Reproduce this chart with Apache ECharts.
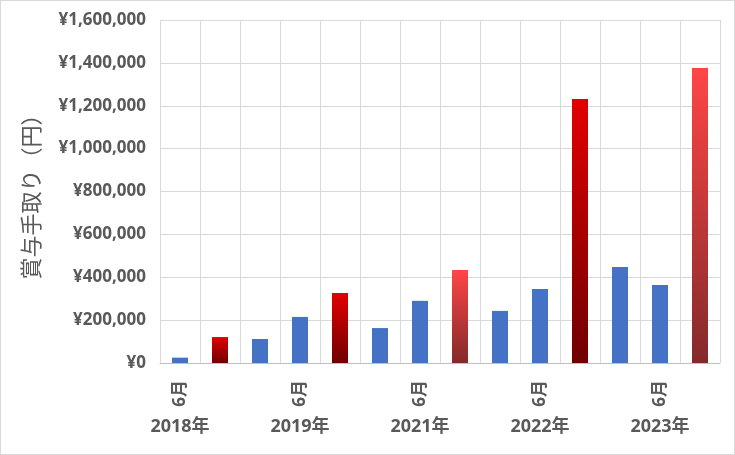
<!DOCTYPE html>
<html>
<head>
<meta charset="utf-8">
<script src="https://cdn.jsdelivr.net/npm/echarts@6/dist/echarts.min.js"></script>
<style>
html,body{margin:0;padding:0;background:#fff;}
#chart{width:733px;height:453px;border:1px solid #d9d9d9;}
</style>
</head>
<body>
<div id="chart"></div>
<script>
const monthLabels = ['6月','','','6月','','','6月','','','6月','','','6月',''];
const yearLabels = ['2018年','','','2019年','','','2021年','','','2022年','','','2023年',''];
const values = [25000,121000,112000,215000,326000,163000,290000,434000,243000,345000,1231000,448000,364000,1376000];
const kinds = ['blue','red','blue','blue','red','blue','blue','light','blue','blue','red','blue','blue','light'];
const yTicks = {min:0, max:1600000, interval:200000};

const categories = values.map((v,i)=>'c'+i);
const fills = {
  blue: '#4472C4',
  red: new echarts.graphic.LinearGradient(0,0,0,1,[{offset:0,color:'#e20000'},{offset:1,color:'#700000'}]),
  light: new echarts.graphic.LinearGradient(0,0,0,1,[{offset:0,color:'#ff4646'},{offset:1,color:'#832a2a'}])
};
const chart = echarts.init(document.getElementById('chart'), null, {renderer:'canvas'});
const lblFont = "'Noto Sans','Noto Sans CJK JP',sans-serif";
chart.setOption({
  animation:false,
  grid:{left:159,right:14,top:19,bottom:91,containLabel:false},
  xAxis:[{
    type:'category', data:categories,
    axisLine:{lineStyle:{color:'#bfbfbf'}},
    axisTick:{show:false},
    splitLine:{show:true,interval:0,lineStyle:{color:'#d9d9d9'}},
    axisLabel:{interval:0,rotate:90,margin:17,color:'#595959',fontWeight:'bold',fontSize:17,fontFamily:lblFont,
      formatter:(v,i)=>monthLabels[i]}
  },{
    type:'category', data:categories, position:'bottom', offset:55,
    axisLine:{show:false}, axisTick:{show:false}, splitLine:{show:false},
    axisLabel:{interval:0,margin:0,color:'#595959',fontWeight:'bold',fontSize:18,fontFamily:lblFont,
      formatter:(v,i)=>yearLabels[i]}
  }],
  yAxis:{
    type:'value', min:yTicks.min, max:yTicks.max, interval:yTicks.interval,
    name:'賞与手取り（円）', nameLocation:'middle', nameGap:118,
    nameTextStyle:{color:'#595959',fontSize:22,fontFamily:"'Noto Sans CJK JP',sans-serif"},
    axisLine:{show:false}, axisTick:{show:false},
    splitLine:{lineStyle:{color:'#d9d9d9'}},
    axisLabel:{margin:14,color:'#595959',fontWeight:'bold',fontSize:17,fontFamily:lblFont,
      formatter:v=>'¥'+v.toLocaleString('en-US')}
  },
  series:[{
    type:'bar', barWidth:16,
    data:values.map((v,i)=>({value:v,itemStyle:{color:fills[kinds[i]]}}))
  }]
});
</script>
</body>
</html>
